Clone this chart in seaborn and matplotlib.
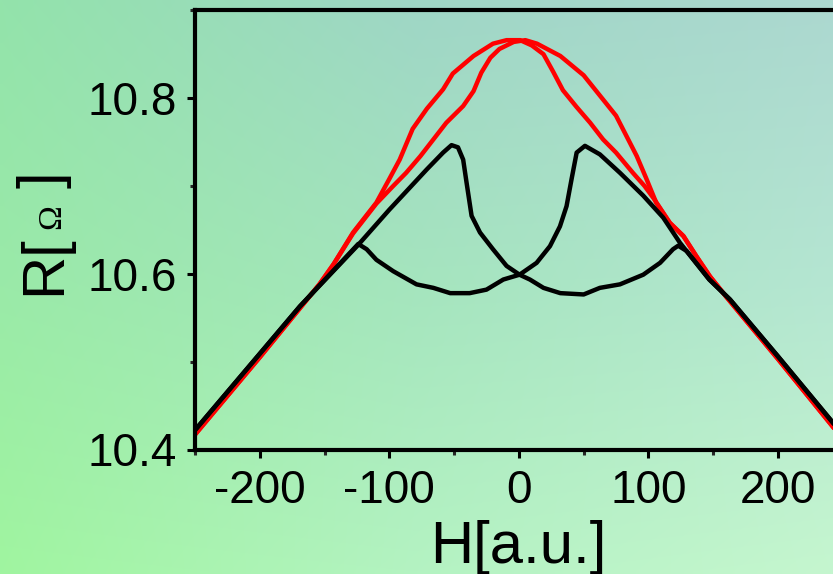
import numpy as np
import pandas as pd
import matplotlib
matplotlib.use("Agg")
import matplotlib.pyplot as plt
from matplotlib.ticker import MultipleLocator, FormatStrFormatter
import seaborn as sns

# ---------------- data ----------------
# red loop, branch 1 (outer on the left, inner on the right)
h_red1 = [-250, -200, -154, -143, -128, -110, -100, -92, -82, -71, -58.5, -51,
          -35, -20, -9.5, 1, 10, 19, 26.5, 34, 44.5, 55, 65, 75, 88, 97, 104,
          116.5, 127, 137, 147.5, 160, 200, 250]
r_red1 = [10.417, 10.505, 10.588, 10.611, 10.647, 10.681, 10.708, 10.730,
          10.765, 10.788, 10.810, 10.828, 10.848, 10.862, 10.866, 10.866,
          10.860, 10.850, 10.830, 10.809, 10.790, 10.772, 10.753, 10.738,
          10.715, 10.700, 10.686, 10.658, 10.643, 10.620, 10.597, 10.574,
          10.503, 10.412]
# red loop, branch 2 (inner on the left, outer on the right)
h_red2 = [-250, -200, -154, -143, -128, -110, -97, -87, -76, -66, -56, -43,
          -35, -29, -22, -15, -4, 5, 14, 23, 32, 50, 62.5, 75, 83, 91, 98.5,
          106, 116.5, 127, 137, 147.5, 160, 200, 250]
r_red2 = [10.417, 10.505, 10.588, 10.611, 10.646, 10.680, 10.700, 10.715,
          10.734, 10.753, 10.772, 10.791, 10.808, 10.829, 10.846, 10.856,
          10.864, 10.866, 10.862, 10.855, 10.848, 10.826, 10.803, 10.780,
          10.757, 10.734, 10.708, 10.681, 10.658, 10.643, 10.620, 10.597,
          10.574, 10.503, 10.412]
# black loop, branch 1 (big peak at negative field)
h_blk1 = [-250, -200, -169, -124, -100, -71, -58.5, -52, -47, -43, -40.4,
          -36.5, -30, -20, -9.5, 0.5, 8.5, 19, 32, 50, 62.5, 78, 96, 109,
          119, 123, 129.5, 147, 163, 200, 250]
r_blk1 = [10.422, 10.509, 10.563, 10.633, 10.673, 10.719, 10.738, 10.7465,
          10.744, 10.730, 10.704, 10.666, 10.647, 10.628, 10.609, 10.599,
          10.5935, 10.584, 10.578, 10.5765, 10.584, 10.588, 10.599, 10.6125,
          10.628, 10.632, 10.626, 10.5935, 10.5707, 10.506, 10.417]
# black loop, branch 2 (big peak at positive field)
h_blk2 = [-250, -200, -169, -124, -117.5, -110, -97, -79, -66, -53, -38, -25,
          -12, 0.5, 13.7, 24, 31.7, 36.8, 40.7, 44.6, 51, 62.5, 78, 96, 111.4,
          124.3, 147, 163, 200, 250]
r_blk2 = [10.422, 10.509, 10.563, 10.634, 10.628, 10.616, 10.603, 10.588,
          10.584, 10.578, 10.578, 10.582, 10.5935, 10.599, 10.6125, 10.6315,
          10.654, 10.677, 10.708, 10.738, 10.7457, 10.736, 10.715, 10.689,
          10.664, 10.6354, 10.5935, 10.5707, 10.506, 10.417]

x_ticks = [-200, -100, 0, 100, 200]
y_ticks = [10.4, 10.6, 10.8]

# ---------------- style ----------------
sns.set_style("ticks")
plt.rcParams["font.family"] = ["Liberation Sans", "DejaVu Sans"]
plt.rcParams["axes.unicode_minus"] = False

W, H = 833, 574
fig = plt.figure(figsize=(W / 100, H / 100), dpi=100)

# background gradient
grid = np.array([
    [[147, 227, 171], [159, 214, 198], [172, 216, 208]],
    [[154, 234, 168], [165, 229, 190], [181, 230, 210]],
    [[160, 245, 160], [180, 243, 194], [197, 246, 207]],
]) / 255.0
ny, nx = 120, 170
def hat(n):
    t = np.linspace(0, 2, n)
    return np.clip(1 - np.abs(t[:, None] - np.arange(3)[None, :]), 0, None)
img = np.einsum("yi,xj,ijc->yxc", hat(ny), hat(nx), grid)
bg = fig.add_axes([0, 0, 1, 1], zorder=0)
bg.imshow(img, extent=[0, 1, 0, 1], aspect="auto", origin="upper",
          interpolation="bilinear")
bg.set_axis_off()

# main axes (right edge runs past the canvas)
ax = fig.add_axes([195 / W, 1 - 449.5 / H, (842.75 - 195) / W, (449.5 - 10.3) / H],
                  zorder=1)
ax.set_facecolor("none")

for hx, ry, col in [(h_red1, r_red1, "#ff0000"), (h_red2, r_red2, "#ff0000"),
                    (h_blk1, r_blk1, "black"), (h_blk2, r_blk2, "black")]:
    sns.lineplot(x=hx, y=ry, color=col, lw=3.2, ax=ax, sort=False,
                 estimator=None)

ax.set_xlim(-250, 250)
ax.set_ylim(10.4, 10.9)
ax.set_xticks(x_ticks)
ax.set_yticks(y_ticks)
ax.xaxis.set_minor_locator(MultipleLocator(50))
ax.yaxis.set_minor_locator(MultipleLocator(0.1))
ax.yaxis.set_major_formatter(FormatStrFormatter("%.1f"))
ax.set_xlabel("")
ax.set_ylabel("")

for s in ax.spines.values():
    s.set_linewidth(3)
    s.set_color("black")

ax.tick_params(axis="both", which="major", length=6, width=2.2, direction="out",
               labelsize=33, colors="black")
ax.tick_params(axis="both", which="minor", length=3.5, width=2.2,
               direction="out")
ax.tick_params(axis="x", which="major", pad=8)
ax.tick_params(axis="y", which="major", pad=7)

# tiny marks on the top spine
ax.xaxis.set_tick_params(which="both", top=True, labeltop=False)
for t in ax.xaxis.get_major_ticks() + ax.xaxis.get_minor_ticks():
    t.tick2line.set_markersize(1.2)
    t.tick2line.set_markeredgewidth(1.5)

# axis titles
fig.text(518 / W, 1 - 563 / H, "H[a.u.]", fontsize=43, ha="center",
         va="baseline", color="black")
fig.text(60 / W, 1 - 294.6 / H, "R[", fontsize=43, rotation=90,
         rotation_mode="anchor", ha="left", va="baseline", color="black")
fig.text(60 / W, 1 - 229 / H, "\u03a9", fontsize=24, rotation=90,
         rotation_mode="anchor", ha="left", va="baseline", color="black",
         family=["Liberation Serif", "DejaVu Serif"])
fig.text(60 / W, 1 - 188.5 / H, "]", fontsize=43, rotation=90,
         rotation_mode="anchor", ha="left", va="baseline", color="black")

fig.savefig("out.png", dpi=100)
